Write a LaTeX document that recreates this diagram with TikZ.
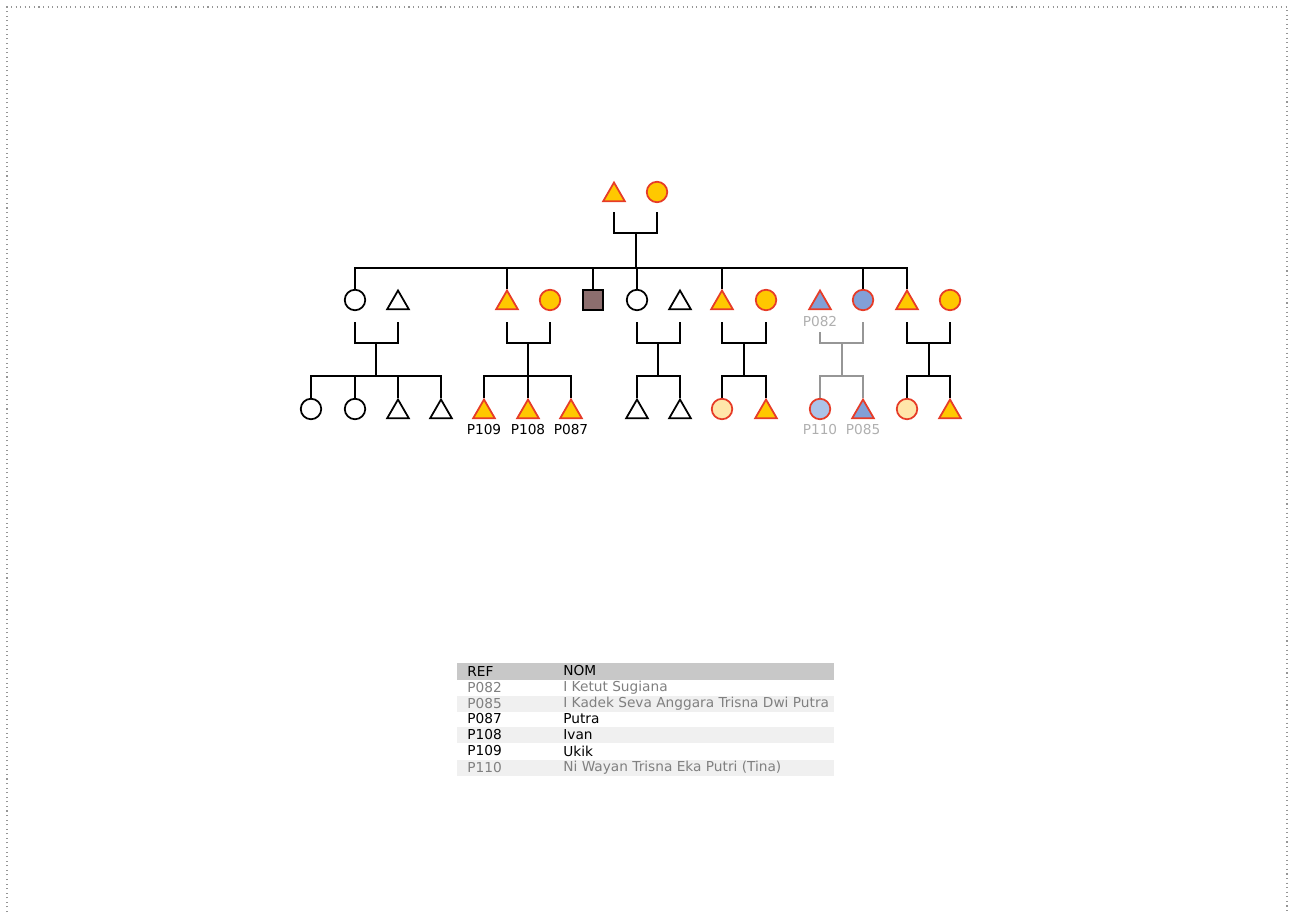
\documentclass[tikz,border=0pt]{standalone}
\usepackage{fontspec}
\setmainfont{DejaVu Sans}
\usetikzlibrary{shapes.geometric,calc}
\definecolor{gold}{RGB}{255,200,0}
\definecolor{redline}{RGB}{230,60,40}
\definecolor{bluefill}{RGB}{130,160,215}
\definecolor{lightblue}{RGB}{172,195,232}
\definecolor{lightgold}{RGB}{255,230,170}
\definecolor{brownfill}{RGB}{140,110,110}
\definecolor{greyline}{RGB}{150,150,150}
\definecolor{greytext}{RGB}{175,175,175}
\definecolor{rowgrey}{RGB}{240,240,240}
\definecolor{headgrey}{RGB}{200,200,200}
\pgfdeclarelayer{bg}
\pgfsetlayers{bg,main}

\begin{document}
\begin{tikzpicture}[x=0.02cm,y=-0.02cm,font=\fontsize{7.8}{9}\selectfont]
\tikzstyle{tri}=[regular polygon, regular polygon sides=3, minimum size=0.5cm, inner sep=0pt, yshift=-0.06cm, draw, fill=white, line width=1pt]
\tikzstyle{cir}=[circle, minimum size=0.41cm, inner sep=0pt, draw, fill=white, line width=1pt]
\tikzstyle{sq}=[rectangle, minimum size=0.4cm, inner sep=0pt, draw, fill=brownfill, line width=1pt]
\tikzstyle{aff}=[draw=redline, fill=gold]
\tikzstyle{pl}=[line width=1.15pt]
\tikzstyle{lbl}=[inner sep=0pt]
\useasboundingbox (0,0) rectangle (1290,912);
\draw[greyline, dotted, line width=0.6pt] (7,912) -- (7,7) -- (1287,7) -- (1287,912);

% first generation
\node[tri,aff] (gp) at (614,192) {};
\node[cir,aff] (gm) at (657,192) {};

% second generation
\node[cir] (a1) at (355,300) {};
\node[tri] (a2) at (398,300) {};
\node[tri,aff] (b1) at (507,300) {};
\node[cir,aff] (b2) at (550,300) {};
\node[sq] (c1) at (593,300) {};
\node[cir] (d1) at (637,300) {};
\node[tri] (d2) at (680,300) {};
\node[tri,aff] (e1) at (722,300) {};
\node[cir,aff] (e2) at (766,300) {};
\node[tri,aff,fill=bluefill] (f1) at (820,300) {};
\node[cir,aff,fill=bluefill] (f2) at (863,300) {};
\node[tri,aff] (h1) at (907,300) {};
\node[cir,aff] (h2) at (950,300) {};
\node[lbl,text=greytext] (lf1) at (820,322) {P082};

% third generation
\node[cir] (a3) at (311,409) {};
\node[cir] (a4) at (355,409) {};
\node[tri] (a5) at (398,409) {};
\node[tri] (a6) at (441,409) {};
\node[tri,aff] (b3) at (484,409) {};
\node[tri,aff] (b4) at (528,409) {};
\node[tri,aff] (b5) at (571,409) {};
\node[tri] (d3) at (637,409) {};
\node[tri] (d4) at (680,409) {};
\node[cir,aff,fill=lightgold] (e3) at (722,409) {};
\node[tri,aff] (e4) at (766,409) {};
\node[cir,aff,fill=lightblue] (f3) at (820,409) {};
\node[tri,aff,fill=bluefill] (f4) at (863,409) {};
\node[cir,aff,fill=lightgold] (h3) at (907,409) {};
\node[tri,aff] (h4) at (950,409) {};
\node[lbl] (lb3) at (484,430) {P109};
\node[lbl] (lb4) at (528,430) {P108};
\node[lbl] (lb5) at (571,430) {P087};
\node[lbl,text=greytext] (lf3) at (820,430) {P110};
\node[lbl,text=greytext] (lf4) at (863,430) {P085};

\coordinate (u0) at (636,233);
\coordinate (s0) at (636,268);
\coordinate (ua) at (376,343);
\coordinate (sa) at (376,376);
\coordinate (ub) at (528,343);
\coordinate (sb) at (528,376);
\coordinate (ud) at (658,343);
\coordinate (sd) at (658,376);
\coordinate (ue) at (744,343);
\coordinate (se) at (744,376);
\coordinate (uf) at (842,343);
\coordinate (sf) at (842,376);
\coordinate (uh) at (929,343);
\coordinate (sh) at (929,376);

\begin{pgfonlayer}{bg}
\draw[pl] ($(gp |- u0)+(0,-21)$) -- (gp |- u0) -- (gm |- u0) -- ($(gm |- u0)+(0,-21)$);
\draw[pl] (u0) -- (s0);
\foreach \k in {a1,b1,c1,d1,e1,f2,h1}
  \draw[pl] (s0) -| (\k);

\foreach \p/\q/\u/\s in {a1/a2/ua/sa, b1/b2/ub/sb, d1/d2/ud/sd, e1/e2/ue/se, h1/h2/uh/sh}{
  \draw[pl] ($(\p |- \u)+(0,-21)$) -- (\p |- \u) -- (\q |- \u) -- ($(\q |- \u)+(0,-21)$);
  \draw[pl] (\u) -- (\s);
}
\draw[pl,greyline] ($(f1 |- uf)+(0,-11)$) -- (f1 |- uf) -- (f2 |- uf) -- ($(f2 |- uf)+(0,-21)$);
\draw[pl,greyline] (uf) -- (sf);

\foreach \k in {a3,a4,a5,a6}
  \draw[pl] (sa) -| (\k);
\foreach \k in {b3,b4,b5}
  \draw[pl] (sb) -| (\k);
\foreach \k in {d3,d4}
  \draw[pl] (sd) -| (\k);
\foreach \k in {e3,e4}
  \draw[pl] (se) -| (\k);
\foreach \k in {f3,f4}
  \draw[pl,greyline] (sf) -| (\k);
\foreach \k in {h3,h4}
  \draw[pl] (sh) -| (\k);
\end{pgfonlayer}

% table of names
\fill[headgrey] (457,663) rectangle (834,680);
\fill[rowgrey] (457,696) rectangle (834,712);
\fill[rowgrey] (457,727) rectangle (834,743);
\fill[rowgrey] (457,760) rectangle (834,776);
\node[lbl,anchor=west] (hr) at (467,671) {REF};
\node[lbl,anchor=west] (hn) at (563,671) {NOM};
\foreach \y/\r/\n/\c in {688/P082/I Ketut Sugiana/gray, 704/P085/I Kadek Seva Anggara Trisna Dwi Putra/gray, 719/P087/Putra/black, 735/P108/Ivan/black, 751/P109/Ukik/black, 768/P110/Ni Wayan Trisna Eka Putri (Tina)/gray}{
  \node[lbl,anchor=west,text=\c] at (467,\y) {\r};
  \node[lbl,anchor=west,text=\c] at (563,\y) {\n};
}
\end{tikzpicture}
\end{document}
